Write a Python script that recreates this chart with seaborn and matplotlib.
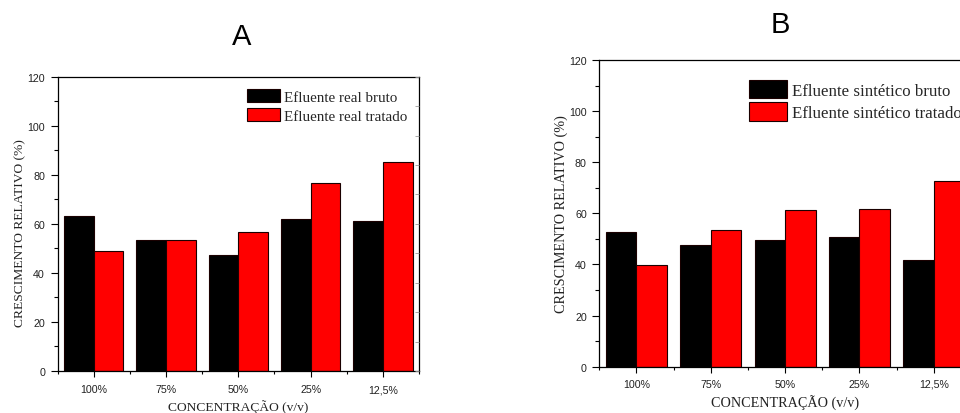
import matplotlib
matplotlib.use("Agg")
import matplotlib.pyplot as plt
import seaborn as sns
import pandas as pd
from matplotlib.ticker import MultipleLocator, FixedLocator

# Concentrations tested (v/v)
concentracoes = ["100%", "75%", "50%", "25%", "12,5%"]

# Panel A: real effluent
real_bruto = [63.3, 53.3, 47.4, 61.9, 61.0]
real_tratado = [48.8, 53.6, 56.8, 76.5, 85.4]

# Panel B: synthetic effluent
sint_bruto = [52.6, 47.7, 49.5, 50.6, 41.7]
sint_tratado = [39.9, 53.4, 61.4, 61.6, 72.8]

serie_a = ["Efluente real bruto", "Efluente real tratado"]
serie_b = ["Efluente sintético bruto", "Efluente sintético tratado"]

sns.set_theme(style="white")
plt.rcParams["font.family"] = ["Liberation Sans", "DejaVu Sans"]

SANS = ["Liberation Sans", "DejaVu Sans"]
SERIF = ["Liberation Serif", "DejaVu Serif"]


def long_table(bruto, tratado, nomes):
    rows = []
    for c, v in zip(concentracoes, bruto):
        rows.append({"conc": c, "valor": v, "serie": nomes[0]})
    for c, v in zip(concentracoes, tratado):
        rows.append({"conc": c, "valor": v, "serie": nomes[1]})
    return pd.DataFrame(rows)


fig = plt.figure(figsize=(9.6, 4.14), dpi=100)

ax_a = fig.add_axes([0.0599, 0.1014, 0.3766, 0.7109])
ax_b = fig.add_axes([0.6243, 0.1118, 0.3870, 0.7408])


def draw_panel(ax, df, nomes, leg_font, leg_anchor, hl, hh, lsp,
               tick_pad_x, lab_coords_y, lab_coords_x, lab_size):
    sns.barplot(data=df, x="conc", y="valor", hue="serie", hue_order=nomes,
                order=concentracoes, palette=["#000000", "#ff0000"],
                width=0.82, edgecolor="#1a0000", linewidth=0.8,
                saturation=1, ax=ax, errorbar=None)
    ax.set_ylim(0, 120)
    ax.set_xlim(-0.5, 4.5)
    ax.yaxis.set_major_locator(MultipleLocator(20))
    ax.yaxis.set_minor_locator(MultipleLocator(10))
    ax.xaxis.set_minor_locator(FixedLocator([-0.5, 0.5, 1.5, 2.5, 3.5, 4.5]))
    for s in ax.spines.values():
        s.set_visible(True)
        s.set_color("black")
        s.set_linewidth(0.9)
    ax.tick_params(axis="y", which="major", direction="out", length=5,
                   width=0.8, color="black", pad=4, labelsize=7.7,
                   labelcolor="#222222", left=True)
    ax.tick_params(axis="y", which="minor", direction="out", length=3,
                   width=0.8, color="black", left=True)
    ax.tick_params(axis="x", which="major", direction="out", length=4,
                   width=0.8, color="black", pad=tick_pad_x, labelsize=7.7,
                   labelcolor="#222222", bottom=True)
    ax.tick_params(axis="x", which="minor", direction="out", length=2.5,
                   width=0.8, color="black", bottom=True)
    for t in ax.get_xticklabels() + ax.get_yticklabels():
        t.set_family(SANS)

    ax.set_ylabel("CRESCIMENTO RELATIVO (%)", family=SERIF, fontsize=lab_size,
                  color="#222222", va="center")
    ax.set_xlabel("CONCENTRAÇÃO (v/v)", family=SERIF, fontsize=lab_size,
                  color="#222222", va="center")
    ax.yaxis.set_label_coords(*lab_coords_y)
    ax.xaxis.set_label_coords(*lab_coords_x)

    # faint inward ticks on the right-hand side
    ax_r = ax.twinx()
    ax_r.set_ylim(0, 10)
    ax_r.yaxis.set_major_locator(MultipleLocator(1))
    ax_r.tick_params(axis="y", direction="in", length=3, width=0.6,
                     color="#9a9a9a", labelright=False)
    ax_r.grid(False)
    for s in ax_r.spines.values():
        s.set_visible(False)

    handles, labels = ax.get_legend_handles_labels()
    ax.legend(handles, labels, loc="upper left", bbox_to_anchor=leg_anchor,
              frameon=False, prop={"family": SERIF, "size": leg_font},
              handlelength=hl, handleheight=hh, handletextpad=0.3,
              labelspacing=lsp, borderpad=0, borderaxespad=0)


draw_panel(ax_a, long_table(real_bruto, real_tratado, serie_a), serie_a,
           10.8, (0.5234, 0.958), 2.2, 1.0, 0.27, 5.5,
           (-0.104, 0.472), (0.499, -0.119), 9.7)
draw_panel(ax_b, long_table(sint_bruto, sint_tratado, serie_b), serie_b,
           12.2, (0.403, 0.935), 2.25, 1.27, 0.22, 4.5,
           (-0.103, 0.501), (0.5, -0.115), 10.2)

fig.text(242 / 960, 1 - 37 / 414, "A", family=SANS, fontsize=21,
         ha="center", va="center", color="black")
fig.text(780 / 960, 1 - 25 / 414, "B", family=SANS, fontsize=21,
         ha="center", va="center", color="black")

fig.savefig("out.png", dpi=100, facecolor="white")
